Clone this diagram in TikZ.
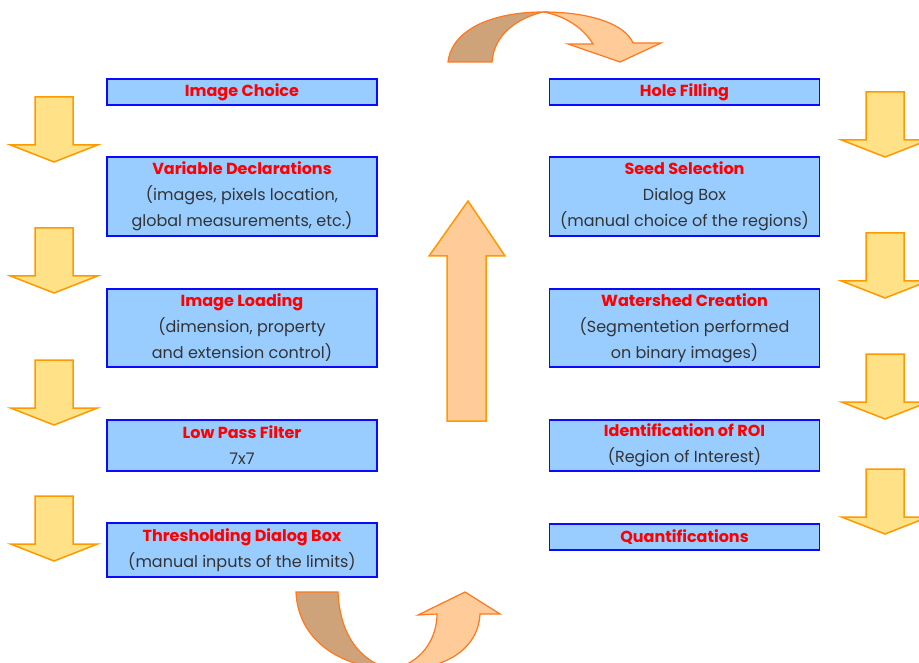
\documentclass[tikz,border=0pt]{standalone}
\usepackage{fontspec}
\setmainfont{Poppins}
\usepackage{tikz}
\usetikzlibrary{positioning}
\definecolor{boxfill}{RGB}{153,204,255}
\definecolor{boxline}{RGB}{10,10,255}
\definecolor{titlered}{RGB}{255,0,0}
\definecolor{subgray}{RGB}{51,51,51}
\definecolor{arrowfill}{RGB}{255,225,135}
\definecolor{arrowline}{RGB}{255,153,0}
\definecolor{peach}{RGB}{255,204,153}
\definecolor{tan}{RGB}{206,163,121}
\definecolor{curveline}{RGB}{255,120,30}
\tikzset{
  box/.style={
    rectangle, minimum width=270pt, inner sep=0pt,
    text centered, align=center, draw=boxline, fill=boxfill, line width=1.8pt,
    font=\fontsize{16}{26}\selectfont, text=subgray
  },
  smallarrow/.style={
    draw=arrowline, fill=arrowfill, line width=1.5pt, line join=miter
  },
  bigarrow/.style={
    draw=arrowline, fill=peach, line width=1.5pt
  },
  backside/.style={
    draw=curveline, fill=tan, line width=1.2pt
  },
  frontside/.style={
    draw=curveline, fill=peach, line width=1.2pt
  },
  downarrow/.pic={
    \path[smallarrow] (-19,0) -- (19,0) -- (19,48) -- (43.5,48) -- (0,65)
      -- (-43.5,48) -- (-19,48) -- cycle;
  }
}
\newcommand{\ttl}[1]{{\bfseries\color{titlered}#1}}

\begin{document}
\begin{tikzpicture}[x=1pt, y=-1pt]

\useasboundingbox[fill=white] (0,0) rectangle (919,663);
\clip (0,0) rectangle (919,663);

% Left column
\node (imgchoice) [box, minimum height=26pt] at (242,92) {\ttl{Image Choice}};
\node (vardecl) [box, minimum height=79pt] at (242,196.5) {\ttl{Variable Declarations}\\(images, pixels location,\\global measurements, etc.)};
\node (imgload) [box, minimum height=78pt] at (242,328) {\ttl{Image Loading}\\(dimension, property\\and extension control)};
\node (lowpass) [box, minimum height=51pt] at (242,445.5) {\ttl{Low Pass Filter}\\7x7};
\node (thresh) [box, minimum height=54pt] at (242,550) {\ttl{Thresholding Dialog Box}\\(manual inputs of the limits)};

% Right column
\node (holefill) [box, minimum height=26pt] at (684.5,92) {\ttl{Hole Filling}};
\node (seedsel) [box, minimum height=79pt] at (684.5,196.5) {\ttl{Seed Selection}\\Dialog Box\\(manual choice of the regions)};
\node (watershed) [box, minimum height=78pt] at (684.5,328) {\ttl{Watershed Creation}\\(Segmentetion performed\\on binary images)};
\node (roi) [box, minimum height=51pt] at (684.5,445.5) {\ttl{Identification of ROI}\\(Region of Interest)};
\node (quant) [box, minimum height=26pt] at (684.5,537) {\ttl{Quantifications}};

% Small down arrows
\foreach \y in {97, 228, 360, 496} {
  \pic at (54,\y) {downarrow};
}
\foreach \y in {92, 233, 354, 469} {
  \pic at (885,\y) {downarrow};
}

% Big up arrow
\path[bigarrow] (447,421) -- (447,256) -- (429,256) -- (468,201) -- (505,256)
  -- (486,256) -- (486,421) -- cycle;

% Bottom turn
\path[backside] (296,592) -- (338,592) .. controls (340,640) and (365,664) .. (392,669)
  .. controls (340,668) and (298,640) .. (296,592) -- cycle;
\path[frontside] (392,669) .. controls (420,664) and (437,640) .. (437,614)
  -- (418,615) -- (465,592) -- (500,614) -- (480,614)
  .. controls (478,652) and (440,672) .. (392,669) -- cycle;

% Top turn
\path[backside] (448,62) .. controls (452,28) and (495,12) .. (543,12)
  .. controls (518,18) and (494,34) .. (492,62) -- cycle;
\path[frontside] (543,12) .. controls (590,12) and (625,24) .. (633,43)
  -- (661,43) -- (620,62) -- (568,44) -- (593,44)
  .. controls (582,26) and (562,15) .. (543,12) -- cycle;

\end{tikzpicture}
\end{document}
